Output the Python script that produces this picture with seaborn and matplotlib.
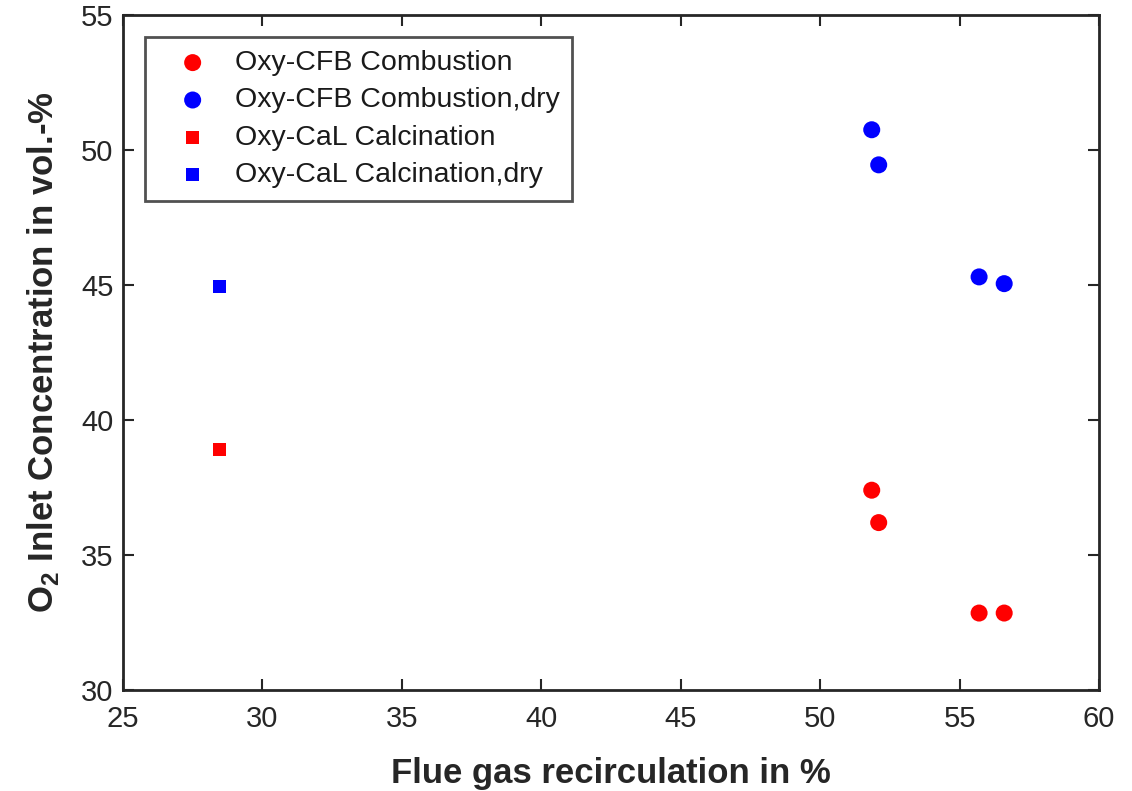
import matplotlib
matplotlib.use("Agg")
import matplotlib.pyplot as plt
import seaborn as sns
import pandas as pd

# Data
cfb_x = [51.85, 52.1, 55.7, 56.6]
cfb_y = [37.4, 36.2, 32.85, 32.85]
cfb_dry_y = [50.75, 49.45, 45.3, 45.05]
cal_x = [28.45]
cal_y = [38.9]
cal_dry_y = [44.95]
series_names = ["Oxy-CFB Combustion", "Oxy-CFB Combustion,dry",
                "Oxy-CaL Calcination", "Oxy-CaL Calcination,dry"]
x_ticks = [25, 30, 35, 40, 45, 50, 55, 60]
y_ticks = [30, 35, 40, 45, 50, 55]

sns.set_theme(style="white")
plt.rcParams['font.family'] = ['Liberation Sans', 'DejaVu Sans']
plt.rcParams['mathtext.fontset'] = 'custom'
plt.rcParams['mathtext.rm'] = 'Liberation Sans'
plt.rcParams['mathtext.bf'] = 'Liberation Sans:bold'

fig = plt.figure(figsize=(11.32, 7.91), dpi=100)
ax = fig.add_axes([123/1132, 1 - 690/791, 976/1132, 675/791])

df = pd.concat([
    pd.DataFrame({"x": cfb_x, "y": cfb_y, "s": series_names[0]}),
    pd.DataFrame({"x": cfb_x, "y": cfb_dry_y, "s": series_names[1]}),
    pd.DataFrame({"x": cal_x, "y": cal_y, "s": series_names[2]}),
    pd.DataFrame({"x": cal_x, "y": cal_dry_y, "s": series_names[3]}),
])
colors = ["#ff0000", "#0000ff", "#ff0000", "#0000ff"]
markers = ["o", "o", "s", "s"]
sizes = [150, 150, 90, 90]
for name, c, m, sz in zip(series_names, colors, markers, sizes):
    sub = df[df["s"] == name]
    sns.scatterplot(data=sub, x="x", y="y", ax=ax, color=c, marker=m, s=sz,
                    edgecolor="none", linewidth=0, label=name)

ax.set_xlim(25, 60)
ax.set_ylim(30, 55)
ax.set_xticks(x_ticks)
ax.set_yticks(y_ticks)
ax.tick_params(direction="in", length=8, width=1.5, top=True, right=True,
               bottom=True, left=True, labelsize=21, colors="#262626")
ax.tick_params(axis="x", pad=11)
ax.tick_params(axis="y", pad=7)
for sp in ax.spines.values():
    sp.set_linewidth(2)
    sp.set_color("#262626")

ax.set_xlabel("Flue gas recirculation in %", fontsize=25, fontweight="bold",
              color="#262626", labelpad=17)
ax.set_ylabel(r"O$_\mathbf{2}$ Inlet Concentration in vol.-%", fontsize=25,
              fontweight="bold", color="#262626", labelpad=14)

leg = ax.legend(loc="upper left", bbox_to_anchor=(0.0225, 0.967), fontsize=20.5,
                frameon=True, fancybox=False, edgecolor="#262626",
                borderpad=0.45, labelspacing=0.4, handletextpad=0.25,
                handlelength=2.45, borderaxespad=0)
leg.get_frame().set_linewidth(2)
for t in leg.get_texts():
    t.set_color("#1a1a1a")

fig.savefig("out.png", dpi=100)
